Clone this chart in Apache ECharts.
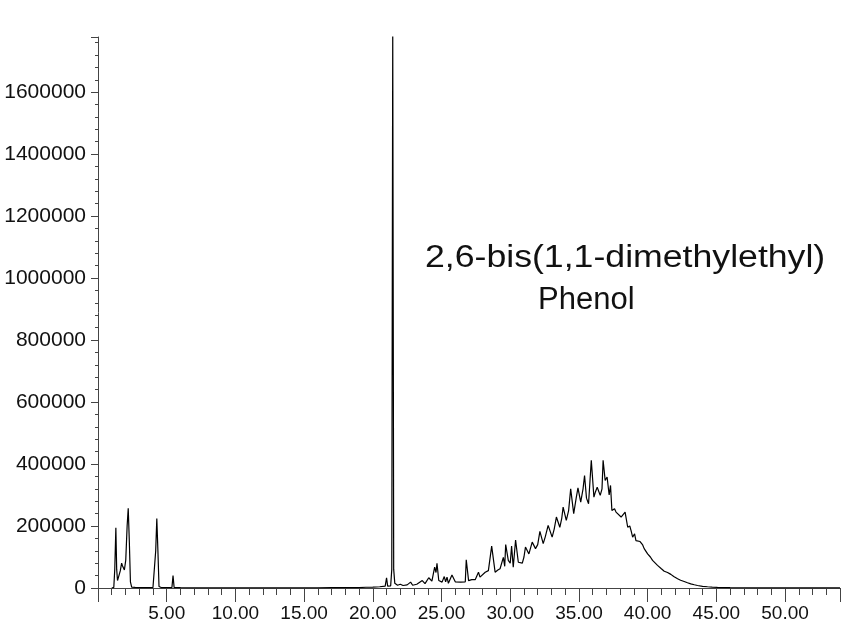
<!DOCTYPE html>
<html>
<head>
<meta charset="utf-8">
<script src="https://cdn.jsdelivr.net/npm/echarts@6/dist/echarts.min.js"></script>
<style>
html,body{margin:0;padding:0;background:#fff;}
#chart{width:843px;height:627px;}
</style>
</head>
<body>
<div id="chart"></div>
<script>
// Retention time (min)
var times = [
  1.0, 1.15, 1.22, 1.30, 1.36, 1.42, 1.52, 1.62, 1.72, 1.78, 1.84, 1.92, 2.02, 2.12, 2.20, 2.28, 2.36, 2.45, 2.7, 3.0, 3.5, 4.0,
  4.12, 4.20, 4.28, 4.36, 4.44, 4.6, 5.0, 5.38, 5.46, 5.54, 6.0,
  7, 8, 9, 10, 11, 12, 13, 13.1, 13.2, 14, 15, 16, 17, 18, 19, 19.5, 20, 20.5, 20.9, 21.0, 21.08, 21.3, 21.38, 21.45, 21.52, 21.6, 21.8,
  22.0, 22.2, 22.5, 22.75, 22.9, 23.2, 23.6, 23.8, 24.07, 24.3, 24.5, 24.6, 24.67, 24.8, 25.04, 25.2, 25.3, 25.4, 25.5, 25.76, 26.0, 26.4,
  26.73, 26.8, 26.9, 26.97, 27.2, 27.45, 27.69, 27.8, 27.93, 28.18, 28.41, 28.55, 28.65, 28.78, 28.9, 29.1, 29.26, 29.5, 29.6, 29.67, 29.86,
  30.0, 30.1, 30.22, 30.39, 30.59, 30.88, 31.0, 31.11, 31.36, 31.6, 31.84, 32.0, 32.16, 32.4, 32.55, 32.76, 33.05, 33.2, 33.36, 33.61,
  33.75, 33.85, 34.08, 34.25, 34.4, 34.62, 34.8, 34.93, 35.13, 35.3, 35.41, 35.55, 35.7, 35.9, 36.09, 36.2, 36.33, 36.55, 36.68, 36.76,
  36.91, 37.05, 37.2, 37.3, 37.4, 37.59, 37.7, 37.83, 38.07, 38.2, 38.36, 38.55, 38.7, 38.79, 38.91, 39.05, 39.15, 39.27, 39.45, 39.64,
  39.75, 40.0, 40.2, 40.36, 40.5, 40.72, 41.0, 41.21, 41.45, 41.69, 41.9, 42.18, 42.4, 42.66, 42.9, 43.14, 43.4, 43.63, 44.0, 44.36,
  44.7, 45.08, 46, 47, 48, 50, 52, 54
];
// Abundance
var abundance = [
  0, 2000, 60000, 194000, 60000, 24000, 26000, 55000, 80000, 72000, 76000, 58000, 90000, 200000, 257000, 150000, 20000, 3000, 2000, 1500, 1000, 1500,
  5000, 120000, 224000, 120000, 5000, 1500, 1000, 1500, 40000, 1500, 1000,
  500, 800, 500, 700, 400, 800, 600, 4000, 700, 600, 800, 600, 900, 1200, 1500, 2500, 3000, 4000, 6000, 33000, 6000, 7000, 60000, 1800000, 60000, 15000, 9000,
  12000, 8000, 10000, 19000, 9000, 12000, 24000, 14000, 33000, 22000, 67000, 50000, 80000, 24000, 19000, 37000, 20000, 35000, 15000, 42000, 20000, 19000,
  20000, 91000, 91000, 24000, 27000, 27000, 51000, 35000, 35000, 51000, 56000, 60000, 135000, 135000, 51000, 58000, 62000, 99000, 70000, 140000, 89000,
  80000, 135000, 67000, 155000, 83000, 80000, 100000, 132000, 110000, 148000, 127000, 140000, 183000, 143000, 165000, 202000, 164000, 190000, 229000, 196000,
  225000, 261000, 218000, 250000, 320000, 240000, 290000, 323000, 277000, 320000, 363000, 290000, 272000, 412000, 293000, 310000, 325000, 299000, 320000, 412000,
  347000, 358000, 300000, 331000, 250000, 256000, 245000, 240000, 229000, 235000, 245000, 196000, 200000, 186000, 164000, 175000, 153000, 148000, 150000, 139000,
  127000, 110000, 100000, 89000, 85000, 73000, 62000, 54000, 50000, 44000, 37000, 30000, 25000, 21000, 17000, 13500, 10500, 8000, 5500, 4000,
  3000, 2000, 1200, 800, 500, 300, 200, 100
];
var peakLabelLines = ['2,6-bis(1,1-dimethylethyl)', 'Phenol'];
var xMin = 0, xMax = 54, xStep = 5;
var yMin = 0, yMax = 1778000, yStep = 200000;

var points = times.map(function (t, i) { return [t, abundance[i]]; });

var chart = echarts.init(document.getElementById('chart'), null, {renderer: 'canvas'});
var font = '"Liberation Sans", Arial, Helvetica, sans-serif';
chart.setOption({
  animation: false,
  backgroundColor: '#ffffff',
  grid: {left: 98, top: 37, width: 745, height: 551, containLabel: false},
  xAxis: {
    type: 'value', min: xMin, max: xMax, interval: xStep,
    axisLine: {show: true, onZero: false, lineStyle: {color: '#444', width: 1}},
    axisTick: {show: true, inside: false, length: 14, lineStyle: {color: '#444', width: 1}},
    minorTick: {show: true, splitNumber: 5, length: 7, lineStyle: {color: '#444', width: 1}},
    splitLine: {show: false},
    axisLabel: {
      margin: 16, color: '#111', fontSize: 19, fontFamily: font,
      formatter: function (v) { return (v === 0 || v % xStep !== 0) ? '' : v.toFixed(2); }
    }
  },
  yAxis: {
    type: 'value', min: yMin, max: yMax, interval: yStep,
    axisLine: {show: true, onZero: false, lineStyle: {color: '#444', width: 1}},
    axisTick: {show: true, inside: false, length: 7, lineStyle: {color: '#444', width: 1}},
    minorTick: {show: true, splitNumber: 5, length: 3, lineStyle: {color: '#444', width: 1}},
    splitLine: {show: false},
    axisLabel: {
      margin: 12, color: '#111', fontSize: 21, fontFamily: font,
      formatter: function (v) { return (v % yStep !== 0) ? '' : String(v); }
    }
  },
  series: [{
    type: 'line', data: points, showSymbol: false, symbol: 'none', clip: true,
    lineStyle: {color: '#000', width: 1.2}
  }],
  graphic: [
    {type: 'text', x: 425, y: 243, scaleX: 1.15, style: {text: peakLabelLines[0], font: '31px ' + font, fill: '#111'}},
    {type: 'text', x: 538, y: 285, style: {text: peakLabelLines[1], font: '31px ' + font, fill: '#111'}}
  ]
});
</script>
</body>
</html>
